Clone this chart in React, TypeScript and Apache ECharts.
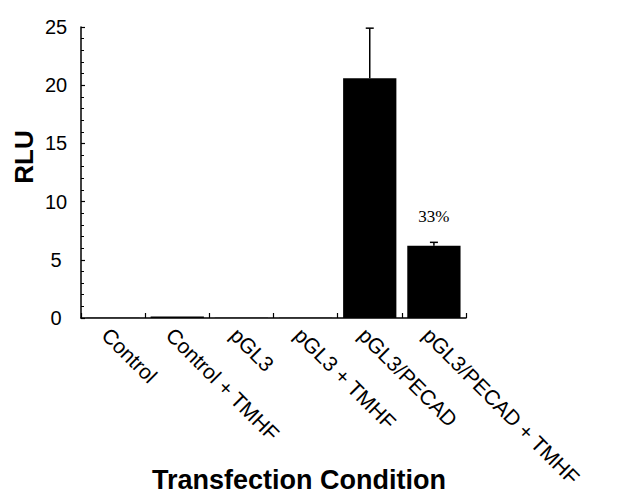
import React, { useEffect, useRef } from "react";
import * as echarts from "echarts";

const categories = [
  "Control",
  "Control + TMHF",
  "pGL3",
  "pGL3 + TMHF",
  "pGL3/PECAD",
  "pGL3/PECAD + TMHF",
];
const rluValues = [0.03, 0.12, 0.03, 0.03, 20.6, 6.2];
const rluErrors = [0, 0, 0, 0, 4.3, 0.3];
const barLabels = ["", "", "", "", "", "33%"];
const yTicks = [0, 5, 10, 15, 20, 25];
const xTitle = "Transfection Condition";
const yTitle = "RLU";

export default function App() {
  const ref = useRef<HTMLDivElement>(null);
  useEffect(() => {
    if (!ref.current) return;
    const chart = echarts.init(ref.current, undefined, { renderer: "svg" });
    const errData = rluValues.map((v, i) => [i, v, v + rluErrors[i]]);
    chart.setOption({
      animation: false,
      backgroundColor: "#ffffff",
      grid: {
        left: 73,
        right: 143,
        top: 19,
        bottom: 176,
        containLabel: false,
        outerBoundsMode: "none",
      },
      graphic: [
        {
          type: "text",
          x: 299 - 8,
          y: 480 - 8,
          style: {
            text: xTitle,
            fontFamily: "Liberation Sans",
            fontWeight: "bold",
            fontSize: 27,
            fill: "#000",
            align: "center",
            verticalAlign: "middle",
          },
        },
        {
          type: "text",
          x: 24 - 8,
          y: 157 - 8,
          rotation: Math.PI / 2,
          style: {
            text: yTitle,
            fontFamily: "Liberation Sans",
            fontWeight: "bold",
            fontSize: 26,
            fill: "#000",
            align: "center",
            verticalAlign: "middle",
          },
        },
      ],
      xAxis: {
        type: "category",
        data: categories,
        axisLine: { lineStyle: { color: "#000", width: 1.5 } },
        axisTick: { show: true, inside: true, length: 5, lineStyle: { color: "#000", width: 1.2 } },
        axisLabel: {
          rotate: -45,
          margin: 6,
          verticalAlign: "top",
          fontFamily: "Liberation Sans",
          fontSize: 21,
          color: "#000",
          interval: 0,
          hideOverlap: false,
        },
      },
      yAxis: {
        type: "value",
        min: 0,
        max: 25,
        interval: 5,
        splitLine: { show: false },
        axisLine: { show: true, lineStyle: { color: "#000", width: 1.5 } },
        axisTick: { show: true, inside: true, length: 4, lineStyle: { color: "#000", width: 1.2 } },
        minorTick: { show: true, splitNumber: 5, length: 3, lineStyle: { color: "#000", width: 1 } },
        axisLabel: {
          margin: 25,
          align: "center",
          fontFamily: "Liberation Sans",
          fontSize: 20,
          color: "#000",
          formatter: (v: number) => (yTicks.includes(v) ? String(v) : ""),
        },
      },
      series: [
        {
          type: "bar",
          data: rluValues.map((v, i) => ({
            value: v,
            label: {
              show: barLabels[i] !== "",
              formatter: barLabels[i],
              position: "top",
              distance: 21,
              fontFamily: "Liberation Serif",
              fontSize: 17,
              color: "#000",
            },
          })),
          barWidth: "83%",
          itemStyle: { color: "#000" },
          z: 2,
        },
        {
          type: "custom",
          data: errData,
          z: 3,
          renderItem: (params: any, api: any) => {
            const i = api.value(0);
            if (rluErrors[i] === 0) return null;
            const base = api.coord([i, api.value(1)]);
            const top = api.coord([i, api.value(2)]);
            const hw = 4;
            return {
              type: "group",
              children: [
                {
                  type: "line",
                  shape: { x1: base[0], y1: base[1], x2: top[0], y2: top[1] },
                  style: { stroke: "#000", lineWidth: 1.5 },
                },
                {
                  type: "line",
                  shape: { x1: top[0] - hw, y1: top[1], x2: top[0] + hw, y2: top[1] },
                  style: { stroke: "#000", lineWidth: 1.5 },
                },
              ],
            };
          },
        },
      ],
    });
    return () => chart.dispose();
  }, []);
  return <div ref={ref} style={{ width: 601, height: 486 }} />;
}
